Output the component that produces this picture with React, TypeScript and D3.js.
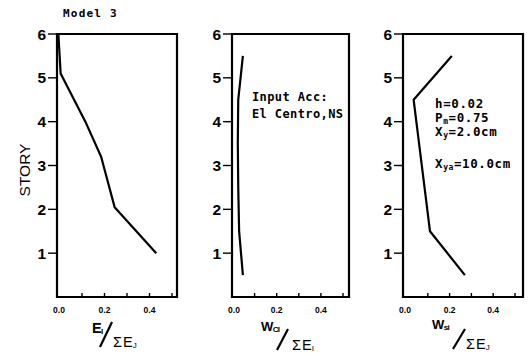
import React from "react";
import * as d3 from "d3";

// story levels and values
const storyE = [1.0, 2.05, 3.2, 4.0, 5.1, 6.0];
const energyE = [0.43, 0.245, 0.185, 0.115, 0.005, -0.005];

const storyMid = [0.5, 1.5, 2.5, 3.5, 4.5, 5.5];
const energyWc = [0.047, 0.03, 0.026, 0.024, 0.026, 0.047];
const energyWs = [0.27, 0.11, 0.085, 0.06, 0.035, 0.21];

const yTicks = [1, 2, 3, 4, 5, 6];
const xMinorTicks = [0.1, 0.2, 0.3, 0.4, 0.5];
const xTickLabels = [0.0, 0.2, 0.4];

const sans = "'Liberation Sans', Arial, sans-serif";
const mono = "'DejaVu Sans Mono', monospace";

const y = d3.scaleLinear().domain([0, 6]).range([297, 34]);

const panels = [
  {left: 57, right: 177, x0: 59.5, x1: 172, xs: energyE, ys: storyE},
  {left: 232, right: 349, x0: 232.5, x1: 343, xs: energyWc, ys: storyMid},
  {left: 403, right: 523, x0: 406, x1: 515, xs: energyWs, ys: storyMid},
];

function Panel({p, children}: {p: any; children?: React.ReactNode}) {
  const x = d3.scaleLinear().domain([0, 0.5]).range([p.x0, p.x1]);
  const pts: [number, number][] = p.xs.map((v: number, i: number) => [v, p.ys[i]]);
  const line = d3
    .line<[number, number]>()
    .x((d) => x(d[0]))
    .y((d) => y(d[1]));
  const top = y(6);
  const bottom = y(0);
  return (
    <g>
      <path
        d={`M${p.left},${bottom}V${top}H${p.right}V${bottom}Z`}
        fill="none"
        stroke="#000"
        strokeWidth={2.2}
      />
      {yTicks.map((t) => (
        <g key={t}>
          <line x1={p.left - 9} x2={p.left} y1={y(t)} y2={y(t)} stroke="#000" strokeWidth={1.4} />
          <text
            x={p.left - 11}
            y={y(t) + 5.5}
            textAnchor="end"
            fontFamily={sans}
            fontSize={15.5}
            fontWeight="bold"
          >
            {t}
          </text>
        </g>
      ))}
      {xMinorTicks.map((t) => (
        <line key={t} x1={x(t)} x2={x(t)} y1={bottom} y2={bottom - 4} stroke="#000" strokeWidth={1.4} />
      ))}
      {xTickLabels.map((t) => (
        <text
          key={t}
          x={t === 0 ? p.left + 2 : x(t)}
          y={bottom + 16}
          textAnchor="middle"
          fontFamily={sans}
          fontSize={8.5}
          fontWeight="bold"
        >
          {t.toFixed(1)}
        </text>
      ))}
      <path d={line(pts) || ""} fill="none" stroke="#000" strokeWidth={2.2} strokeLinejoin="round" />
      {children}
    </g>
  );
}

function Ratio({r}: {r: any}) {
  // numerator with subscript, diagonal slash, then sigma denominator
  return (
    <g fontFamily={sans}>
      <text x={r.nx} y={r.ny} fontSize={r.nSize} fontWeight={600} letterSpacing={-0.6}>
        {r.num}
        <tspan fontSize={8} dy={1}>{r.sub}</tspan>
      </text>
      <line x1={r.sx0} x2={r.sx1} y1={r.sy0} y2={r.sy1} stroke="#000" strokeWidth={2.2} />
      <text x={r.dx} y={r.dy} fontSize={14.5}>
        Σ
        <tspan dx={1}>E</tspan>
        <tspan fontSize={8} dy={1}>{r.den}</tspan>
      </text>
    </g>
  );
}

const ratios = [
  {nx: 92, ny: 333, nSize: 14.5, num: "E", sub: "I", den: "J", sx0: 100, sy0: 347, sx1: 112, sy1: 322, dx: 113, dy: 347},
  {nx: 261, ny: 331, nSize: 13, num: "W", sub: "CI", den: "I", sx0: 277, sy0: 350, sx1: 288, sy1: 329, dx: 292, dy: 350},
  {nx: 432, ny: 329, nSize: 13, num: "W", sub: "si", den: "J", sx0: 453, sy0: 349, sx1: 465, sy1: 329, dx: 466, dy: 349},
];

export default function App() {
  return (
    <svg
      width={529}
      height={354}
      style={{position: "absolute", left: 0, top: 0, background: "#fff"}}
    >
      <text x={63} y={17} fontFamily={mono} fontSize={11} fontWeight="bold" letterSpacing={1.2}>
        Model 3
      </text>
      <text
        transform="translate(30,170) rotate(-90)"
        textAnchor="middle"
        fontFamily={sans}
        fontSize={15.5}
        fill="#000"
      >
        STORY
      </text>

      <Panel p={panels[0]}>
        <Ratio r={ratios[0]} />
      </Panel>

      <Panel p={panels[1]}>
        <g fontFamily={mono} fontSize={12} fontWeight="bold" letterSpacing={0.4}>
          <text x={252} y={101}>Input Acc:</text>
          <text x={252} y={118}>El Centro,NS</text>
        </g>
        <Ratio r={ratios[1]} />
      </Panel>

      <Panel p={panels[2]}>
        <g fontFamily={mono} fontSize={12.5} fontWeight="bold" letterSpacing={0.6}>
          <text x={435} y={108}>h=0.02</text>
          <text x={435} y={122}>
            P<tspan fontSize={8} dy={2}>m</tspan>
            <tspan dy={-2}>=0.75</tspan>
          </text>
          <text x={435} y={136}>
            X<tspan fontSize={8} dy={2}>y</tspan>
            <tspan dy={-2}>=2.0cm</tspan>
          </text>
          <text x={435} y={168}>
            X<tspan fontSize={8} dy={2}>ya</tspan>
            <tspan dy={-2}>=10.0cm</tspan>
          </text>
        </g>
        <Ratio r={ratios[2]} />
      </Panel>
    </svg>
  );
}
